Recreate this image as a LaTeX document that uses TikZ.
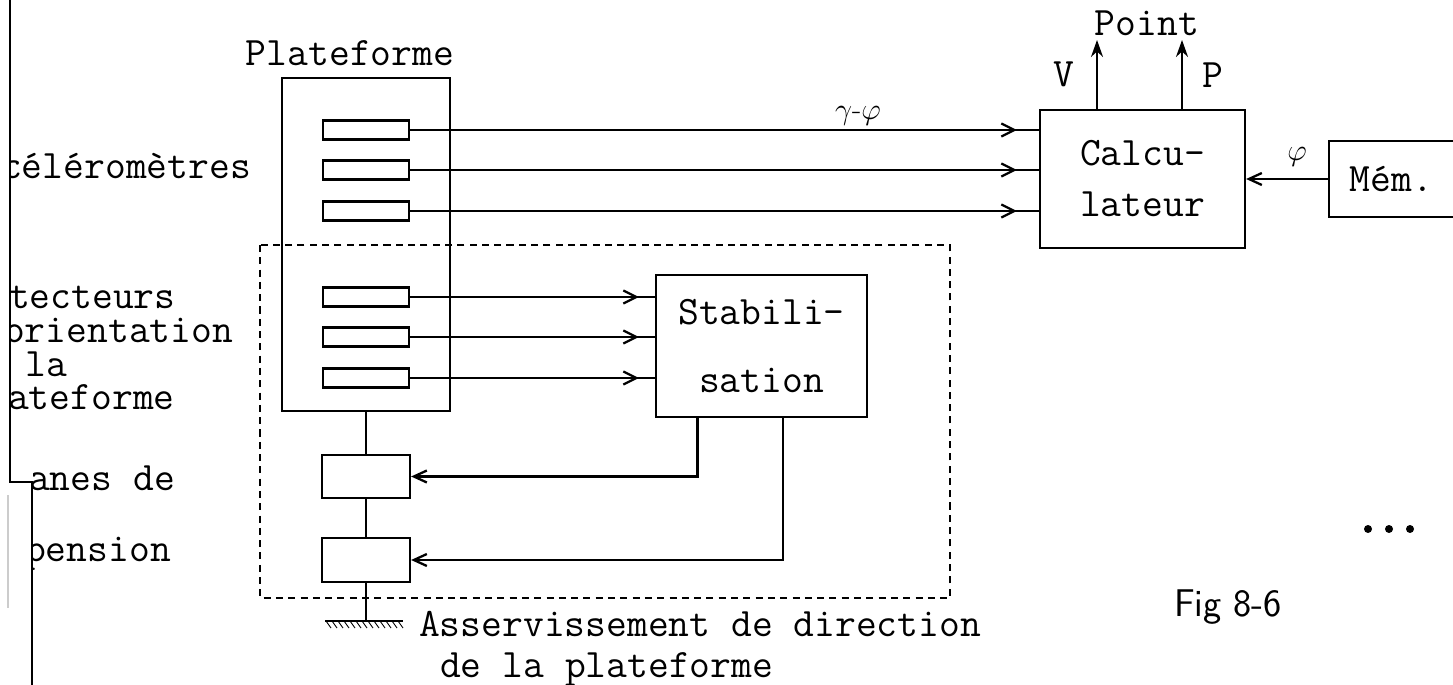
\documentclass[tikz,border=0pt]{standalone}
\usepackage{tikz}
\usetikzlibrary{arrows.meta, positioning, calc, decorations.markings}

\begin{document}
\begin{tikzpicture}[x=0.02cm, y=-0.02cm, line width=1.3pt,
    every node/.style={font=\fontsize{23}{27}\selectfont\ttfamily, inner sep=0pt},
    blk/.style={draw, rectangle, align=center},
    sens/.style={draw, rectangle, minimum width=1.72cm, minimum height=0.38cm},
    midtip/.style={postaction={decorate}, decoration={markings,
        mark=at position #1 with {\arrow{Straight Barb[length=2.6mm, width=2.6mm]}}}},
    fbtip/.style={-{Straight Barb[length=2.6mm, width=2.4mm]}},
    uptip/.style={-{Stealth[length=3.4mm, width=2.4mm]}},
    dashbox/.style={line width=1pt, dash pattern=on 4pt off 3pt}]
    \useasboundingbox (0,0) rectangle (1453,685);

    % left edge of the sheet
    \draw[line width=1.5pt] (10,0) -- (10,482) -- (32,482) -- (32,685);
    \draw[gray!40, line width=1pt] (8,495) -- (8,608);
    \begin{scope}
        \clip (11,0) rectangle (400,440);
        \node[anchor=base west] (acc) at (0,179) {céléromètres};
        \node[anchor=base west, align=left, font=\fontsize{23}{19.3}\selectfont\ttfamily] (det) at (3,410)
            {\hspace*{2.8pt}tecteurs\\orientation\\\hspace*{12pt}la\\\hspace*{2.3pt}ateforme};
    \end{scope}
    \begin{scope}
        \clip (33,440) rectangle (400,685);
        \node[anchor=base west] (org1) at (28,490) {anes de};
        \node[anchor=base west] (org2) at (24,561) {pension};
    \end{scope}

    % platform and sensors
    \node[blk, minimum width=3.36cm, minimum height=6.66cm] (plat) at (366,244.5) {};
    \node[anchor=base] (platlab) at (350,66) {Plateforme};
    \foreach \i/\y in {1/130, 2/170, 3/211, 4/297, 5/337, 6/378}
        \node[sens] (s\i) at (366,\y) {};

    % blocks
    \node[blk, minimum width=4.1cm, minimum height=2.76cm] (calc) at (1142.5,179) {Calcu-\\[2pt]lateur};
    \node[blk, minimum width=4.22cm, minimum height=2.84cm] (stab) at (761.5,346) {Stabili-\\[12pt]sation};
    \node[minimum width=2.46cm, minimum height=1.48cm] (mem) at (1391.5,179) {Mém.};
    \draw (mem.north east) -- (mem.north west) -- (mem.south west) -- (mem.south east);
    \node[blk, minimum width=1.76cm, minimum height=0.86cm] (act1) at (366,476.5) {};
    \node[blk, minimum width=1.76cm, minimum height=0.88cm] (act2) at (366,560) {};

    % signals
    \foreach \i in {1,2,3}
        \draw[midtip=-0.44cm] (s\i.east) -- (s\i.east -| calc.west);
    \foreach \i in {4,5,6}
        \draw[midtip=-0.32cm] (s\i.east) -- (s\i.east -| stab.west);
    \node[font=\LARGE] (gphi) at (858,116) {$\gamma$-$\varphi$};
    \draw[fbtip] (mem.west) -- (calc.east);
    \node[font=\LARGE] (philab) at (1297,157) {$\varphi$};

    \coordinate (vtop) at (1097,40);
    \coordinate (ptop) at (1182,40);
    \draw[uptip] (vtop |- calc.north) -- (vtop);
    \draw[uptip] (ptop |- calc.north) -- (ptop);
    \node[anchor=base] (vlab) at (1064,87) {V};
    \node[anchor=base] (plab) at (1213,88) {P};
    \node[anchor=base] (point) at (1147,36) {Point};

    % feedback loop
    \coordinate (fb1) at ($(stab.south west)!0.2!(stab.south east)$);
    \coordinate (fb2) at ($(stab.south west)!0.6!(stab.south east)$);
    \draw[fbtip] (fb1) |- (act1.east);
    \draw[fbtip] (fb2) |- (act2.east);

    % suspension to ground
    \coordinate (gnd) at (366,621);
    \draw (plat.south) -- (act1.north);
    \draw (act1.south) -- (act2.north);
    \draw (act2.south) -- (gnd);
    \draw ($(gnd)+(-41,0)$) -- ($(gnd)+(37,0)$);
    \foreach \k in {0,...,12}
        \draw[line width=0.5pt] ($(gnd)+(-40+6*\k,0)$) -- ++(5,7);

    \draw[dashbox] (260,245) rectangle (950,598);
    \node[anchor=base west] (asv) at (418,636) {Asservissement de direction};
    \node[anchor=base west] (asv2) at (439,677) {de la plateforme};

    \foreach \x in {1368,1389,1410}
        \fill (\x,529) circle[radius=0.08cm];
    \node[anchor=base, font=\sffamily\fontsize{22}{26}\selectfont] (fig) at (1228,616) {Fig 8-6};
\end{tikzpicture}
\end{document}
